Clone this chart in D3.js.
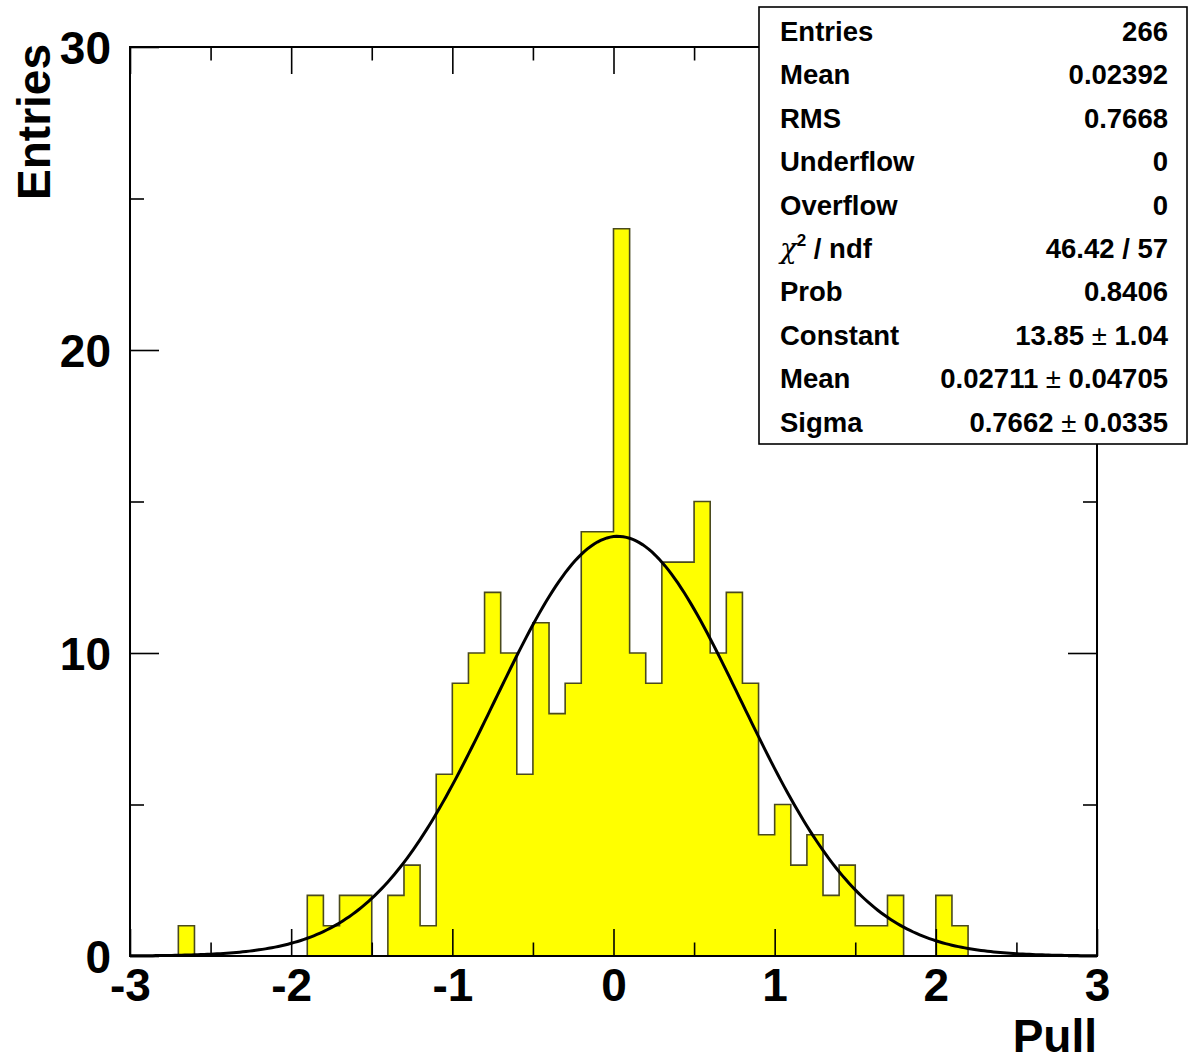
<!DOCTYPE html>
<html>
<head>
<meta charset="utf-8">
<script src="https://cdn.jsdelivr.net/npm/d3@7"></script>
<style>
  html, body { margin: 0; padding: 0; background: #fff; }
  svg { display: block; }
  text { font-family: "Liberation Sans", Arial, Helvetica, sans-serif; font-weight: bold; fill: #000; }
</style>
</head>
<body>
<svg id="chart" width="1191" height="1062"></svg>
<script>
// ---------------- data ----------------
const binEdgesRange = [-3, 3];           // histogram range
const nBins = 60;                        // bin width 0.1
const binCounts = [
  0,0,0,1,0,0,0,0,0,0,
  0,2,1,2,2,0,2,3,1,6,
  9,10,12,10,6,11,8,9,14,14,
  24,10,9,13,13,15,10,12,9,4,
  5,3,4,2,3,1,1,2,0,0,
  2,1,0,0,0,0,0,0,0,0
];
const xMajorTicks = [-3, -2, -1, 0, 1, 2, 3];
const xMinorTicks = [-2.5, -1.5, -0.5, 0.5, 1.5, 2.5];
const yMajorTicks = [0, 10, 20, 30];
const yMinorTicks = [5, 15, 25];
const yRange = [0, 30];
const xTitle = "Pull";
const yTitle = "Entries";
// Gaussian fit parameters (from the stats box)
const fitConstant = 13.85, fitMean = 0.02711, fitSigma = 0.7662;
const statLabels = ["Entries", "Mean", "RMS", "Underflow", "Overflow", "CHI2", "Prob", "Constant", "Mean", "Sigma"];
const statValues = ["266", "0.02392", "0.7668", "0", "0", "46.42 / 57", "0.8406", "13.85|1.04", "0.02711|0.04705", "0.7662|0.0335"];

// ---------------- layout ----------------
const L = 130, R = 1097, T = 47, B = 956;
const svg = d3.select("#chart");
const x = d3.scaleLinear().domain(binEdgesRange).range([L, R]);
const y = d3.scaleLinear().domain(yRange).range([B, T]);
const bw = (binEdgesRange[1] - binEdgesRange[0]) / nBins;

// histogram path
const bins = binCounts.map((c, i) => ({ lo: binEdgesRange[0] + i * bw, hi: binEdgesRange[0] + (i + 1) * bw, c }));
const pts = [[x(binEdgesRange[0]), y(0)]];
bins.forEach(b => { pts.push([x(b.lo), y(b.c)]); pts.push([x(b.hi), y(b.c)]); });
pts.push([x(binEdgesRange[1]), y(0)]);
const line = d3.line();
svg.append("path").attr("d", line(pts) + "Z").attr("fill", "#ffff00").attr("stroke", "none");
svg.append("path").attr("d", line(pts)).attr("fill", "none").attr("stroke", "#4a4a1e").attr("stroke-width", 1.6);

// fit curve
const fitX = d3.range(0, 301).map(i => binEdgesRange[0] + i * (binEdgesRange[1] - binEdgesRange[0]) / 300);
const gaus = v => fitConstant * Math.exp(-0.5 * Math.pow((v - fitMean) / fitSigma, 2));
svg.append("path")
  .attr("d", d3.line().x(v => x(v)).y(v => y(gaus(v))).curve(d3.curveLinear)(fitX))
  .attr("fill", "none").attr("stroke", "#000").attr("stroke-width", 3);

// axes
function styleAxis(g) {
  g.select(".domain").remove();
  g.selectAll(".tick line").attr("stroke", "#000").attr("stroke-width", 1.6);
}
const fs = 46;
// bottom major
const gb = svg.append("g").attr("transform", `translate(0,${B})`)
  .call(d3.axisBottom(x).tickValues(xMajorTicks).tickSize(-27).tickPadding(12).tickFormat(d3.format("d")));
styleAxis(gb);
gb.selectAll("text").attr("font-size", fs).attr("font-family", null).text(d => String(d).replace("−", "-")).attr("y", 45).attr("dy", 0);
svg.append("g").attr("transform", `translate(0,${B})`)
  .call(d3.axisBottom(x).tickValues(xMinorTicks).tickSize(-13.5).tickFormat("")).call(styleAxis);
// top
svg.append("g").attr("transform", `translate(0,${T})`)
  .call(d3.axisTop(x).tickValues(xMajorTicks).tickSize(-27).tickFormat("")).call(styleAxis);
svg.append("g").attr("transform", `translate(0,${T})`)
  .call(d3.axisTop(x).tickValues(xMinorTicks).tickSize(-13.5).tickFormat("")).call(styleAxis);
// left
const gl = svg.append("g").attr("transform", `translate(${L},0)`)
  .call(d3.axisLeft(y).tickValues(yMajorTicks).tickSize(-29).tickPadding(19).tickFormat(d3.format("d")));
styleAxis(gl);
gl.selectAll("text").attr("font-size", fs).attr("font-family", null).attr("dy", "0.36em");
svg.append("g").attr("transform", `translate(${L},0)`)
  .call(d3.axisLeft(y).tickValues(yMinorTicks).tickSize(-14).tickFormat("")).call(styleAxis);
// right
svg.append("g").attr("transform", `translate(${R},0)`)
  .call(d3.axisRight(y).tickValues(yMajorTicks).tickSize(-29).tickFormat("")).call(styleAxis);
svg.append("g").attr("transform", `translate(${R},0)`)
  .call(d3.axisRight(y).tickValues(yMinorTicks).tickSize(-14).tickFormat("")).call(styleAxis);

// frame
svg.append("rect").attr("x", L).attr("y", T).attr("width", R - L).attr("height", B - T)
  .attr("fill", "none").attr("stroke", "#000").attr("stroke-width", 2);

// titles
svg.append("text").attr("x", R).attr("y", 1052).attr("text-anchor", "end").attr("font-size", fs).text(xTitle);
svg.append("text").attr("transform", `translate(50,44) rotate(-90)`).attr("text-anchor", "end").attr("font-size", fs).text(yTitle);

// stats box
svg.append("rect").attr("x", 759).attr("y", 7).attr("width", 428).attr("height", 437)
  .attr("fill", "#fff").attr("stroke", "#000").attr("stroke-width", 1.6);
const sfs = 27.5;
statLabels.forEach((lab, i) => {
  const by = 41 + 43.4 * i;
  const t = svg.append("text").attr("x", 780).attr("y", by).attr("font-size", sfs);
  if (lab === "CHI2") {
    t.append("tspan").attr("font-weight", "normal").attr("font-family", "DejaVu Serif, serif").attr("font-style", "italic").text("χ");
    t.append("tspan").attr("font-size", sfs * 0.62).attr("dy", -12).text("2");
    t.append("tspan").attr("dy", 12).text("  / ndf");
  } else {
    t.text(lab);
  }
  const v = statValues[i];
  const tv = svg.append("text").attr("x", 1168).attr("y", by).attr("font-size", sfs).attr("text-anchor", "end");
  if (v.includes("|")) {
    const [a, b] = v.split("|");
    tv.append("tspan").text(a + " ");
    tv.append("tspan").attr("font-weight", "normal").text("±");
    tv.append("tspan").text(" " + b);
  } else {
    tv.text(v);
  }
});
</script>
</body>
</html>
